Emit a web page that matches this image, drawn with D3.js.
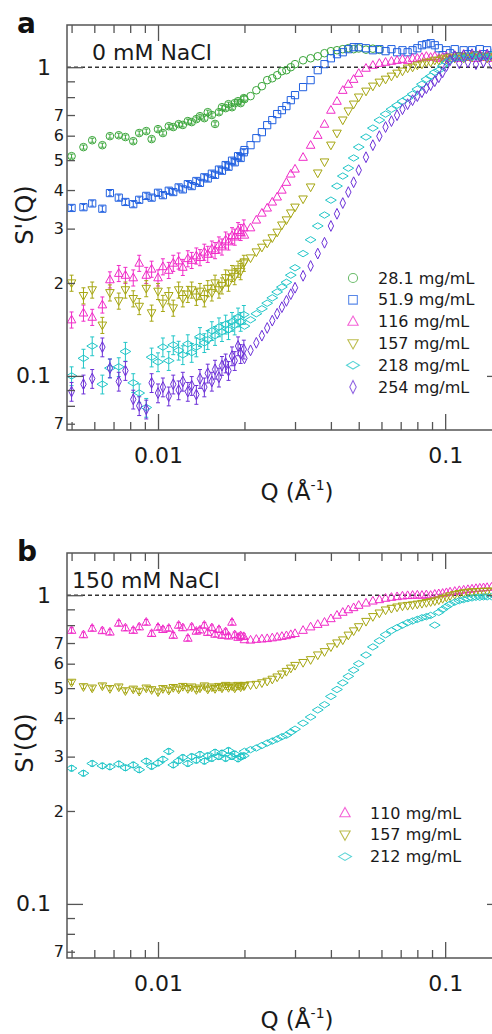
<!DOCTYPE html>
<html>
<head>
<meta charset="utf-8">
<script src="https://cdn.jsdelivr.net/npm/d3@7"></script>
<style>
  body { margin: 0; background: #fff; }
  svg { display: block; font-family: "DejaVu Sans", sans-serif; }
</style>
</head>
<body>
<div id="viz"></div>
<script>
// Q grids (1/Angstrom): low-Q detector setting and high-Q setting
const qLow = [0.0050,0.0055,0.0059,0.0064,0.0068,0.0073,0.0077,0.0082,0.0086,0.0091,0.0095,0.0100,0.0104,0.0109,0.0113,0.0118,0.0122,0.0127,0.0131,0.0136,0.0140,0.0145,0.0149,0.0154,0.0158,0.0163,0.0167,0.0172,0.0176,0.0181,0.0185,0.0190,0.0194,0.0199];
const qHigh = [0.020,0.021,0.022,0.023,0.024,0.025,0.026,0.027,0.028,0.029,0.030,0.032,0.034,0.036,0.038,0.040,0.042,0.044,0.046,0.048,0.050,0.053,0.056,0.059,0.062,0.065,0.068,0.071,0.074,0.077,0.080,0.083,0.086,0.089,0.092,0.095,0.098,0.101,0.104,0.108,0.112,0.116,0.120,0.124,0.128,0.132,0.136,0.140,0.145,0.150];

// panel a: 0 mM NaCl
const a28Low = [0.515,0.551,0.580,0.559,0.598,0.602,0.594,0.576,0.612,0.621,0.585,0.630,0.612,0.644,0.640,0.654,0.650,0.669,0.664,0.679,0.694,0.684,0.715,0.700,0.655,0.715,0.742,0.737,0.759,0.742,0.765,0.776,0.765,0.794];
const a28High = [0.788,0.806,0.842,0.868,0.908,0.921,0.942,0.971,0.978,1.000,1.023,1.053,1.069,1.085,1.110,1.127,1.135,1.144,1.152,1.144,1.150,1.140,1.148,1.138];
const a52Low = [0.350,0.352,0.362,0.348,0.391,0.378,0.366,0.360,0.372,0.383,0.378,0.392,0.385,0.398,0.394,0.408,0.402,0.418,0.412,0.428,0.422,0.440,0.436,0.452,0.448,0.466,0.462,0.482,0.476,0.498,0.492,0.515,0.508,0.530];
const a52High = [0.539,0.559,0.589,0.616,0.649,0.674,0.705,0.726,0.748,0.782,0.812,0.862,0.908,0.978,1.023,1.069,1.102,1.118,1.144,1.161,1.161,1.152,1.135,1.144,1.127,1.144,1.118,1.135,1.118,1.135,1.152,1.178,1.187,1.196,1.178,1.152,1.094,1.135,1.110,1.144,1.085,1.135,1.102,1.135,1.094,1.144,1.102,1.135,1.094,1.118];
const a116Low = [0.152,0.160,0.155,0.170,0.205,0.215,0.212,0.208,0.232,0.212,0.222,0.208,0.226,0.220,0.232,0.236,0.225,0.240,0.237,0.245,0.242,0.252,0.248,0.258,0.255,0.266,0.262,0.276,0.272,0.285,0.282,0.296,0.292,0.302];
const a116High = [0.286,0.302,0.320,0.337,0.350,0.366,0.380,0.400,0.424,0.451,0.468,0.511,0.559,0.602,0.654,0.726,0.776,0.842,0.881,0.914,0.956,0.993,1.015,1.030,1.038,1.046,1.053,1.061,1.053,1.069,1.069,1.077,1.085,1.077,1.085,1.069,1.077,1.085,1.069,1.092,1.069,1.100,1.077,1.092,1.069,1.100,1.077,1.092,1.069,1.085];
const a157Low = [0.200,0.182,0.190,0.146,0.186,0.175,0.190,0.178,0.168,0.192,0.160,0.188,0.172,0.182,0.166,0.190,0.178,0.184,0.190,0.180,0.188,0.178,0.192,0.186,0.200,0.190,0.196,0.208,0.200,0.215,0.210,0.222,0.218,0.232];
const a157High = [0.234,0.241,0.252,0.261,0.269,0.280,0.292,0.308,0.320,0.337,0.352,0.374,0.409,0.454,0.493,0.559,0.611,0.674,0.721,0.759,0.800,0.836,0.868,0.894,0.914,0.935,0.956,0.971,0.993,1.000,1.015,1.023,1.038,1.038,1.053,1.053,1.069,1.061,1.077,1.069,1.085,1.069,1.085,1.077,1.094,1.077,1.085,1.069,1.085,1.077];
const a218Low = [0.100,0.114,0.125,0.094,0.106,0.107,0.120,0.095,0.088,0.079,0.115,0.111,0.124,0.112,0.126,0.121,0.117,0.127,0.119,0.124,0.134,0.128,0.131,0.140,0.135,0.144,0.139,0.147,0.141,0.150,0.146,0.155,0.150,0.158];
const a218High = [0.145,0.152,0.159,0.165,0.172,0.179,0.187,0.194,0.201,0.212,0.224,0.249,0.276,0.306,0.332,0.371,0.412,0.444,0.471,0.508,0.551,0.594,0.635,0.674,0.705,0.731,0.753,0.776,0.794,0.818,0.849,0.881,0.914,0.935,0.963,0.978,1.008,1.038,1.053,1.069,1.077,1.069,1.085,1.077,1.094,1.077,1.085,1.077,1.094,1.077];
const a254Low = [0.089,0.094,0.098,0.124,0.106,0.096,0.104,0.084,0.080,0.078,0.095,0.088,0.092,0.086,0.094,0.090,0.096,0.089,0.093,0.087,0.098,0.092,0.102,0.096,0.105,0.099,0.108,0.110,0.104,0.116,0.112,0.125,0.118,0.122];
const a254High = [0.114,0.121,0.128,0.135,0.143,0.151,0.159,0.167,0.175,0.184,0.193,0.211,0.227,0.249,0.270,0.306,0.335,0.363,0.394,0.424,0.464,0.511,0.559,0.598,0.640,0.669,0.699,0.731,0.759,0.782,0.806,0.830,0.855,0.874,0.901,0.928,0.963,1.008,1.053,1.085,1.030,1.094,1.038,1.102,1.023,1.085,1.040,1.100,1.030,1.080];

// panel b: 150 mM NaCl
const b110Low = [0.770,0.745,0.782,0.768,0.760,0.812,0.784,0.770,0.790,0.818,0.752,0.788,0.775,0.782,0.742,0.800,0.785,0.726,0.790,0.765,0.772,0.800,0.758,0.785,0.748,0.775,0.742,0.762,0.738,0.818,0.745,0.731,0.740,0.735];
const b110High = [0.718,0.716,0.720,0.722,0.724,0.728,0.732,0.736,0.740,0.746,0.752,0.770,0.790,0.805,0.818,0.840,0.862,0.881,0.898,0.912,0.928,0.944,0.958,0.968,0.978,0.985,0.990,0.995,0.998,1.000,1.002,1.000,1.004,1.000,1.008,1.012,1.015,1.020,1.025,1.030,1.036,1.040,1.044,1.048,1.052,1.055,1.058,1.060,1.062,1.064];
const b157Low = [0.522,0.505,0.500,0.508,0.498,0.504,0.490,0.496,0.488,0.500,0.494,0.486,0.498,0.492,0.502,0.496,0.506,0.498,0.504,0.494,0.500,0.508,0.496,0.504,0.498,0.506,0.500,0.510,0.502,0.508,0.500,0.510,0.504,0.508];
const b157High = [0.510,0.512,0.514,0.520,0.526,0.534,0.543,0.555,0.566,0.580,0.592,0.605,0.618,0.640,0.656,0.680,0.700,0.716,0.742,0.766,0.790,0.822,0.852,0.875,0.895,0.906,0.915,0.922,0.926,0.930,0.935,0.940,0.946,0.952,0.958,0.965,0.975,0.985,0.995,1.005,1.012,1.018,1.022,1.025,1.026,1.028,1.028,1.030,1.030,1.030];
const b212Low = [0.275,0.265,0.285,0.280,0.278,0.284,0.276,0.282,0.272,0.290,0.279,0.286,0.294,0.312,0.282,0.291,0.298,0.285,0.300,0.292,0.305,0.290,0.302,0.296,0.310,0.300,0.308,0.296,0.314,0.300,0.306,0.295,0.300,0.302];
const b212High = [0.312,0.316,0.320,0.326,0.332,0.337,0.342,0.348,0.352,0.360,0.368,0.385,0.403,0.425,0.442,0.470,0.495,0.520,0.546,0.572,0.600,0.640,0.680,0.712,0.745,0.768,0.785,0.800,0.815,0.825,0.835,0.845,0.852,0.860,0.800,0.880,0.900,0.918,0.935,0.950,0.960,0.968,0.975,0.980,0.985,0.985,0.988,0.988,0.990,0.990];

// relative error of the low-Q points
const errA = [0.015, 0.02, 0.06, 0.06, 0.07, 0.07];
const errB = [0.02, 0.015, 0.02];

const labelsA = ["28.1 mg/mL", "51.9 mg/mL", "116 mg/mL", "157 mg/mL", "218 mg/mL", "254 mg/mL"];
const labelsB = ["110 mg/mL", "157 mg/mL", "212 mg/mL"];

const xMajor = [0.01, 0.1];
const xMinor = [0.005, 0.006, 0.007, 0.008, 0.009, 0.02, 0.03, 0.04, 0.05, 0.06, 0.07, 0.08, 0.09];
const yMajor = [0.1, 1];
const yMinor = [0.07, 0.08, 0.09, 0.2, 0.3, 0.4, 0.5, 0.6, 0.7, 0.8, 0.9];
const yMinorLabeled = [0.07, 0.2, 0.3, 0.4, 0.5, 0.6, 0.7];

const colors = { green: "#3aa63a", blue: "#2160e0", magenta: "#f02cc8", olive: "#a6a612", cyan: "#22c6c8", purple: "#6c30d8" };

const shapes = {
  circle: "M3.8,0A3.8,3.8 0 1,1 -3.8,0A3.8,3.8 0 1,1 3.8,0Z",
  square: "M-3.6,-3.6H3.6V3.6H-3.6Z",
  up: "M0,-4.6L4.3,3.1L-4.3,3.1Z",
  down: "M0,4.6L4.3,-3.1L-4.3,-3.1Z",
  wide: "M-5.4,0L0,-3.2L5.4,0L0,3.2Z",
  tall: "M0,-5.4L2.7,0L0,5.4L-2.7,0Z"
};

const panels = [
  { tag: "a", top: 25, salt: "0 mM NaCl", saltX: 92,
    legendX: 353, legendY: 278,
    series: [
      { label: labelsA[0], low: a28Low, high: a28High, err: errA[0], color: colors.green, shape: "circle" },
      { label: labelsA[1], low: a52Low, high: a52High, err: errA[1], color: colors.blue, shape: "square" },
      { label: labelsA[2], low: a116Low, high: a116High, err: errA[2], color: colors.magenta, shape: "up" },
      { label: labelsA[3], low: a157Low, high: a157High, err: errA[3], color: colors.olive, shape: "down" },
      { label: labelsA[4], low: a218Low, high: a218High, err: errA[4], color: colors.cyan, shape: "wide" },
      { label: labelsA[5], low: a254Low, high: a254High, err: errA[5], color: colors.purple, shape: "tall" }
    ] },
  { tag: "b", top: 553, salt: "150 mM NaCl", saltX: 72,
    legendX: 345, legendY: 813,
    series: [
      { label: labelsB[0], low: b110Low, high: b110High, err: errB[0], color: colors.magenta, shape: "up" },
      { label: labelsB[1], low: b157Low, high: b157High, err: errB[1], color: colors.olive, shape: "down" },
      { label: labelsB[2], low: b212Low, high: b212High, err: errB[2], color: colors.cyan, shape: "wide" }
    ] }
];

const w = 492, h = 1034;
const plotH = 405;
const axisColor = "#555";

const svg = d3.select("#viz").append("svg")
  .attr("width", w)
  .attr("height", h)
  .style("background-color", "#fff");

const x = d3.scaleLog().domain([0.00482, 0.159]).range([67, 503]);

panels.forEach((p, pi) => {
  const top = p.top, bottom = top + plotH;
  const y = d3.scaleLog().domain([0.0668, 1.37]).range([bottom, top]);
  const g = svg.append("g");

  g.append("clipPath").attr("id", "clip" + pi)
    .append("rect")
    .attr("x", x.range()[0]).attr("y", top)
    .attr("width", x.range()[1] - x.range()[0]).attr("height", plotH);

  // dashed reference line at S'(Q) = 1
  g.append("line")
    .attr("x1", x.range()[0]).attr("x2", x.range()[1])
    .attr("y1", y(1)).attr("y2", y(1))
    .attr("stroke", "#333").attr("stroke-width", 1.4)
    .attr("stroke-dasharray", "4,3");

  const plot = g.append("g").attr("clip-path", `url(#clip${pi})`);

  p.series.forEach(s => {
    const lowPts = s.low.map((v, i) => ({ q: qLow[i], s: v, e: s.err }));
    const highPts = s.high.map((v, i) => ({ q: qHigh[i], s: v, e: 0 }));
    const pts = lowPts.concat(highPts);
    const sg = plot.append("g").attr("stroke", s.color).attr("fill", "none").attr("stroke-width", 1);

    sg.selectAll(".err")
      .data(lowPts)
      .join("path")
      .classed("err", true)
      .attr("d", d => {
        const cx = x(d.q), y0 = y(d.s * (1 - d.e)), y1 = y(d.s * (1 + d.e));
        return `M${cx},${y0}V${y1}M${cx - 2},${y0}H${cx + 2}M${cx - 2},${y1}H${cx + 2}`;
      });

    sg.selectAll(".pt")
      .data(pts)
      .join("path")
      .classed("pt", true)
      .attr("d", shapes[s.shape])
      .attr("transform", d => `translate(${x(d.q)},${y(d.s)})`);
  });

  // axes, ticks pointing inward
  const styleAxis = sel => {
    sel.select(".domain").remove();
    sel.selectAll("line").attr("stroke", axisColor).attr("stroke-width", 1.3);
    sel.selectAll("text").attr("fill", "#1a1a1a").style("font-family", "DejaVu Sans");
  };

  g.append("g").attr("transform", `translate(0,${bottom})`)
    .call(d3.axisBottom(x).tickValues(xMajor).tickSize(-16).tickPadding(17).tickFormat(d => String(d)))
    .call(styleAxis)
    .selectAll("text").style("font-size", "22px");
  g.append("g").attr("transform", `translate(0,${bottom})`)
    .call(d3.axisBottom(x).tickValues(xMinor).tickSize(-8).tickFormat(""))
    .call(styleAxis);
  g.append("g").attr("transform", `translate(0,${top})`)
    .call(d3.axisTop(x).tickValues(xMajor).tickSize(-16).tickFormat(""))
    .call(styleAxis);
  g.append("g").attr("transform", `translate(0,${top})`)
    .call(d3.axisTop(x).tickValues(xMinor).tickSize(-8).tickFormat(""))
    .call(styleAxis);

  g.append("g").attr("transform", `translate(${x.range()[0]},0)`)
    .call(d3.axisLeft(y).tickValues(yMajor).tickSize(-16).tickPadding(16).tickFormat(d => String(d)))
    .call(styleAxis)
    .selectAll("text").style("font-size", "22px");
  g.append("g").attr("transform", `translate(${x.range()[0]},0)`)
    .call(d3.axisLeft(y).tickValues(yMinor).tickSize(-8).tickPadding(3)
      .tickFormat(d => yMinorLabeled.includes(d) ? String(Math.round(d < 0.1 ? d * 100 : d * 10)) : ""))
    .call(styleAxis)
    .selectAll("text").style("font-size", "16px");
  g.append("g").attr("transform", `translate(${x.range()[1]},0)`)
    .call(d3.axisRight(y).tickValues(yMajor).tickSize(-16).tickFormat(""))
    .call(styleAxis);
  g.append("g").attr("transform", `translate(${x.range()[1]},0)`)
    .call(d3.axisRight(y).tickValues(yMinor).tickSize(-8).tickFormat(""))
    .call(styleAxis);

  g.append("rect")
    .attr("x", x.range()[0]).attr("y", top)
    .attr("width", x.range()[1] - x.range()[0]).attr("height", plotH)
    .attr("fill", "none").attr("stroke", axisColor).attr("stroke-width", 1.5);

  // panel letter and salt condition
  g.append("text").attr("x", 17).attr("y", top + 8)
    .style("font-size", "28px").style("font-weight", "bold").attr("fill", "#111")
    .text(p.tag);
  g.append("text").attr("x", p.saltX).attr("y", top + 35)
    .style("font-size", "22px").attr("fill", "#1a1a1a")
    .text(p.salt);

  // axis titles
  g.append("text")
    .attr("transform", `translate(33,${top + 190}) rotate(-90)`)
    .attr("text-anchor", "middle")
    .style("font-size", "24px").attr("fill", "#1a1a1a")
    .text("S'(Q)");
  const xt = g.append("text")
    .attr("x", 297).attr("y", bottom + 70)
    .attr("text-anchor", "middle")
    .style("font-size", "23px").attr("fill", "#1a1a1a");
  xt.append("tspan").text("Q (Å");
  xt.append("tspan").attr("dy", -10).style("font-size", "14px").text("-1");
  xt.append("tspan").attr("dy", 10).text(")");

  // legend
  const lg = g.append("g").attr("transform", `translate(${p.legendX},${p.legendY})`);
  const rows = lg.selectAll("g").data(p.series).join("g")
    .attr("transform", (d, i) => `translate(0,${i * 21.8})`);
  rows.append("path")
    .attr("d", d => shapes[d.shape])
    .attr("transform", "scale(1.2)")
    .attr("fill", "none").attr("stroke", d => d.color).attr("stroke-width", 0.9)
    .attr("opacity", 0.75);
  rows.append("text")
    .attr("x", 25).attr("dy", "0.35em")
    .style("font-size", "16px").attr("fill", "#1a1a1a")
    .text(d => d.label);
});
</script>
</body>
</html>
